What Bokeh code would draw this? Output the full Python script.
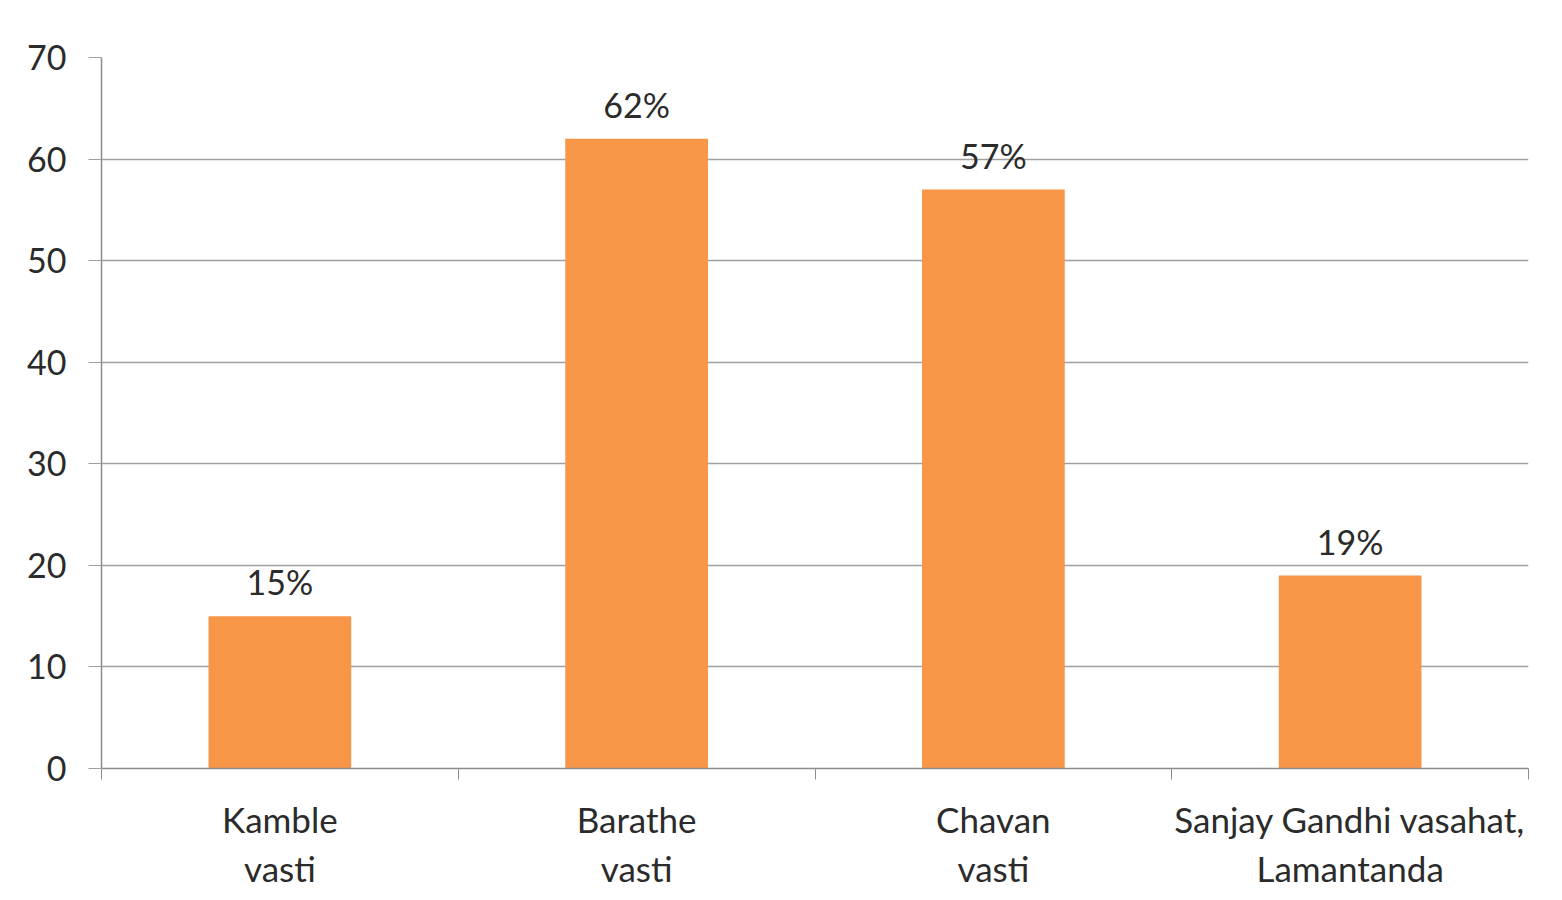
import numpy as np
from bokeh.plotting import figure
from bokeh.models import FixedTicker, ColumnDataSource
from bokeh.core.properties import value
from bokeh.embed import file_html
from bokeh.resources import INLINE

categories = ["Kamble\nvasti", "Barathe\nvasti", "Chavan\nvasti", "Sanjay Gandhi vasahat,\nLamantanda"]
values = [15, 62, 57, 19]
value_labels = ["15%", "62%", "57%", "19%"]
y_ticks = [0, 10, 20, 30, 40, 50, 60, 70]

n = len(categories)
xc = np.arange(n) + 0.5
src = ColumnDataSource(dict(x=xc, top=values, lab=value_labels))

FONT = "Lato"
p = figure(width=1554, height=892, x_range=(0, n), y_range=(0, 70),
           output_backend="svg", toolbar_location=None,
           min_border_left=101, min_border_right=26, min_border_top=57, min_border_bottom=123)
p.outline_line_color = None
p.background_fill_color = "white"
p.border_fill_color = "white"

p.vbar(x="x", top="top", width=0.4, bottom=0, source=src, fill_color="#F79646", line_color=None)
p.text(x="x", y="top", text="lab", source=src, text_align="center", text_baseline="bottom",
       y_offset=-14, text_font=value(FONT), text_font_size="34px", text_color="#2b2b2b")

# x axis
p.xaxis.ticker = FixedTicker(ticks=list(xc), minor_ticks=list(range(n + 1)))
p.xaxis.major_label_overrides = {float(x): c for x, c in zip(xc, categories)}
p.xaxis.major_tick_out = 0
p.xaxis.major_tick_in = 0
p.xaxis.minor_tick_out = 11
p.xaxis.minor_tick_in = 0
p.xaxis.minor_tick_line_color = "#8c8c8c"
p.xaxis.axis_line_color = "#8c8c8c"
p.xaxis.axis_line_width = 1.5
p.xaxis.major_label_text_font = FONT
p.xaxis.major_label_text_font_size = "35px"
p.xaxis.major_label_text_color = "#2b2b2b"
p.xaxis.major_label_standoff = 18
p.xaxis.major_label_text_line_height = 1.18
p.xgrid.grid_line_color = None

# y axis
p.yaxis.ticker = FixedTicker(ticks=y_ticks)
p.yaxis.major_tick_out = 13
p.yaxis.major_tick_in = 0
p.yaxis.minor_tick_line_color = None
p.yaxis.major_tick_line_color = "#a0a0a0"
p.yaxis.axis_line_color = "#8c8c8c"
p.yaxis.axis_line_width = 1.5
p.yaxis.major_label_text_font = FONT
p.yaxis.major_label_text_font_size = "34px"
p.yaxis.major_label_text_color = "#2b2b2b"
p.yaxis.major_label_standoff = 22
p.ygrid.grid_line_color = "#a0a0a0"
p.ygrid.grid_line_width = 1.5

open("out.html", "w").write(file_html(p, INLINE))
